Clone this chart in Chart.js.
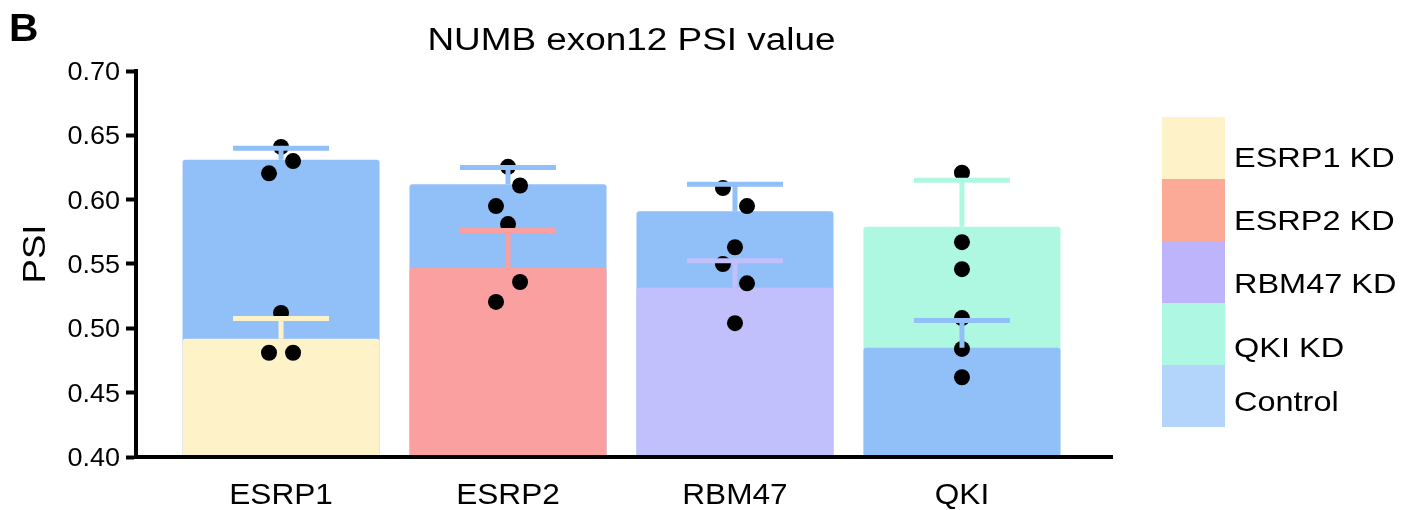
<!DOCTYPE html>
<html>
<head>
<meta charset="utf-8">
<script src="https://cdn.jsdelivr.net/npm/chart.js@4.4.1/dist/chart.umd.min.js"></script>
<style>
  html, body { margin: 0; padding: 0; background: #fff; }
  #wrap { width: 1406px; height: 510px; position: relative; }
</style>
</head>
<body>
<div id="wrap"><canvas id="chart"></canvas></div>
<script>
// ---------- DATOS ----------
const categories = ['ESRP1', 'ESRP2', 'RBM47', 'QKI'];
const legendLabels = ['ESRP1 KD', 'ESRP2 KD', 'RBM47 KD', 'QKI KD', 'Control'];
const yTicks = [0.40, 0.45, 0.50, 0.55, 0.60, 0.65, 0.70];

const controlMean = [0.631, 0.612, 0.591, 0.485];
const controlErr  = [0.009, 0.013, 0.021, 0.021];
const kdMean      = [0.492, 0.547, 0.5315, 0.579];
const kdErr       = [0.0157, 0.029, 0.021, 0.036];

// replicas (puntos negros)
const controlReps = [[0.641, 0.630, 0.6205], [0.6255, 0.611, 0.595], [0.609, 0.595, 0.563], [0.508, 0.484, 0.462]];
const kdReps      = [[0.512, 0.481, 0.481], [0.581, 0.536, 0.5205], [0.550, 0.535, 0.504], [0.621, 0.567, 0.546]];

// desplazamiento horizontal de los puntos (-1, 0, +1)
const controlJit = [[0, 1, -1], [0, 1, -1], [-1, 1, 0], [0, 0, 0]];
const kdJit      = [[0, -1, 1], [0, 1, -1], [-1, 1, 0], [0, 0, 0]];
const JIT = 0.053;

// ---------- COLORES ----------
const CONTROL_BAR = '#91BFF8';
const KD_BAR = ['#FEF2C9', '#FBA0A0', '#C1C0FD', '#AEF8E2'];
const LEGEND_COL = ['#FEF2C8', '#FBAA98', '#BDB4FC', '#AEF8E3', '#B3D5FB'];
const FONT = '"Liberation Sans", Arial, sans-serif';

// la barra mas alta va detras
const back = [], front = [];
categories.forEach((c, i) => {
    const ctl = { x: i, y: controlMean[i], err: controlErr[i], color: CONTROL_BAR };
    const kd = { x: i, y: kdMean[i], err: kdErr[i], color: KD_BAR[i] };
    if (ctl.y >= kd.y) { back.push(ctl); front.push(kd); }
    else { back.push(kd); front.push(ctl); }
});

const dots = [];
categories.forEach((c, i) => {
    controlReps[i].forEach((v, k) => dots.push({ x: i + controlJit[i][k] * JIT, y: v }));
    kdReps[i].forEach((v, k) => dots.push({ x: i + kdJit[i][k] * JIT, y: v }));
});

// ---------- PLUGINS ----------
const errorBars = {
    id: 'errorBars',
    afterDatasetsDraw(chart) {
        const { ctx, scales: { x, y } } = chart;
        ctx.save();
        ctx.lineWidth = 5;
        [back, front].forEach(set => set.forEach(d => {
            const cx = x.getPixelForValue(d.x);
            const y0 = y.getPixelForValue(d.y);
            const y1 = y.getPixelForValue(d.y + d.err);
            ctx.strokeStyle = d.color;
            ctx.beginPath();
            ctx.moveTo(cx, y0); ctx.lineTo(cx, y1);
            ctx.moveTo(cx - 48, y1); ctx.lineTo(cx + 48, y1);
            ctx.stroke();
        }));
        ctx.restore();
    }
};

function drawText(ctx, str, x, y, size, sx, align, opts = {}) {
    ctx.save();
    ctx.translate(x, y);
    if (opts.rotate) ctx.rotate(opts.rotate);
    ctx.scale(sx, 1);
    ctx.font = (opts.bold ? 'bold ' : '') + size + 'px ' + FONT;
    ctx.fillStyle = '#000';
    ctx.textAlign = align;
    ctx.textBaseline = 'alphabetic';
    ctx.fillText(str, 0, 0);
    ctx.restore();
}

const texts = {
    id: 'texts',
    afterDraw(chart) {
        const { ctx, scales: { x, y } } = chart;
        drawText(ctx, 'B', 9, 41, 38.5, 1.06, 'left', { bold: true });
        drawText(ctx, 'NUMB exon12 PSI value', 631.5, 50, 31, 1.19, 'center');
        drawText(ctx, 'PSI', 45, 254, 31, 1.18, 'center', { rotate: -Math.PI / 2 });

        yTicks.forEach(v => {
            drawText(ctx, v.toFixed(2), 120, y.getPixelForValue(v) + 9.1, 25.5, 1.06, 'right');
        });
        categories.forEach((c, i) => {
            drawText(ctx, c, x.getPixelForValue(i), 504, 29, 1.09, 'center');
        });

        // leyenda
        const baselines = [167, 230, 293, 357, 411];
        legendLabels.forEach((lab, i) => {
            ctx.fillStyle = LEGEND_COL[i];
            ctx.fillRect(1162, 117 + i * 62, 63, 62);
            drawText(ctx, lab, 1234, baselines[i], 28, 1.16, 'left');
        });
    }
};

// ---------- GRÁFICA ----------
const ctx = document.getElementById('chart');
const barStyle = {
    type: 'bar',
    grouped: false,
    barPercentage: 0.868,
    categoryPercentage: 1,
    borderRadius: 3,
    borderSkipped: 'start'
};

new Chart(ctx, {
    type: 'bar',
    data: {
        datasets: [
            { ...barStyle, label: 'back', data: back, backgroundColor: back.map(d => d.color), order: 3 },
            { ...barStyle, label: 'front', data: front, backgroundColor: front.map(d => d.color), order: 2 },
            { type: 'scatter', label: 'dots', data: dots, pointRadius: 8, pointHoverRadius: 8,
              backgroundColor: '#000', borderWidth: 0, order: 1 }
        ]
    },
    options: {
        responsive: true,
        maintainAspectRatio: false,
        animation: false,
        events: [],
        layout: { padding: { left: 126, top: 71, right: 294, bottom: 53 } },
        plugins: { legend: { display: false }, tooltip: { enabled: false } },
        scales: {
            x: {
                type: 'linear',
                offset: false,
                min: -0.639,
                max: 3.661,
                afterBuildTicks: s => { s.ticks = categories.map((c, i) => ({ value: i })); },
                afterFit: s => { s.height = 0; },
                ticks: { display: false },
                grid: { display: false, drawTicks: false },
                border: { display: true, color: '#000', width: 4, z: 1 }
            },
            y: {
                min: 0.40,
                max: 0.70,
                afterBuildTicks: s => { s.ticks = yTicks.map(v => ({ value: v })); },
                afterFit: s => { s.width = 10; },
                ticks: { display: false },
                grid: { display: true, drawOnChartArea: false, drawTicks: true, tickLength: 10, tickWidth: 4, tickColor: '#000' },
                border: { display: true, color: '#000', width: 4, z: 1 }
            }
        }
    },
    plugins: [errorBars, texts]
});
</script>
</body>
</html>
